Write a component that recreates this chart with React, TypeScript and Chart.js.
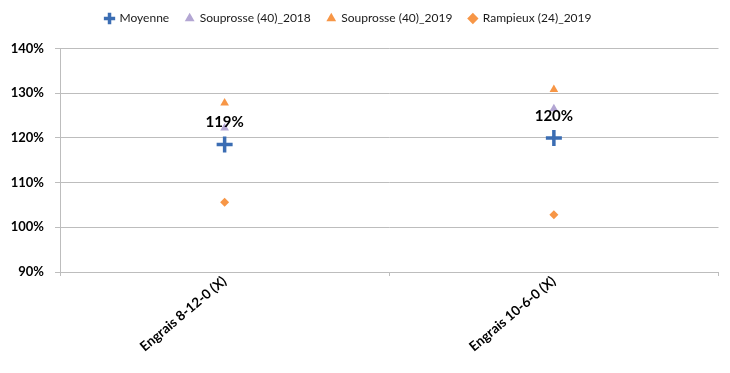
import React, { useEffect, useRef } from "react";
import { Chart, registerables } from "chart.js";

Chart.register(...registerables);

const categories = ["Engrais 8-12-0 (X)", "Engrais 10-6-0 (X)"];
const moyenne = [1.185, 1.2];
const souprosse2018 = [1.222, 1.265];
const souprosse2019 = [1.278, 1.308];
const rampieux2019 = [1.056, 1.028];
const yTicks = [0.9, 1.0, 1.1, 1.2, 1.3, 1.4];

const FONT = "Lato, 'Open Sans', sans-serif";

const labelPlugin = {
  id: "moyLabels",
  afterDatasetsDraw(chart: any) {
    const meta = chart.getDatasetMeta(0);
    const ctx = chart.ctx;
    ctx.save();
    ctx.font = `bold 15px ${FONT}`;
    ctx.fillStyle = "#000";
    ctx.textAlign = "center";
    ctx.textBaseline = "middle";
    meta.data.forEach((pt: any, i: number) => {
      const v = moyenne[i];
      ctx.fillText(Math.round(v * 100) + "%", pt.x, pt.y - 22);
    });
    ctx.restore();
  },
};

const legendTweak = {
  id: "legendTweak",
  beforeUpdate(chart: any) {
    const lg = chart.legend;
    if (!lg || lg.__patched) return;
    lg.__patched = true;
    const origFit = lg.fit.bind(lg);
    lg.fit = function () {
      origFit();
      this.height += 14;
    };
    const origDraw = lg.draw.bind(lg);
    lg.draw = function () {
      const ctx = chart.ctx;
      ctx.save();
      ctx.translate(-12, 0);
      origDraw();
      ctx.restore();
    };
  },
};

export default function App() {
  const ref = useRef<HTMLCanvasElement>(null);
  useEffect(() => {
    const chart = new Chart(ref.current!, {
      type: "line",
      data: {
        labels: categories,
        datasets: [
          {
            label: "Moyenne",
            data: moyenne,
            showLine: false,
            pointStyle: "cross",
            pointRadius: 8,
            pointBorderWidth: 3.5,
            borderColor: "#3B6DB3",
            backgroundColor: "#3B6DB3",
          },
          {
            label: "Souprosse (40)_2018",
            data: souprosse2018,
            showLine: false,
            pointStyle: "triangle",
            pointRadius: 5,
            pointBorderWidth: 0,
            borderColor: "#B3A6D3",
            backgroundColor: "#B3A6D3",
          },
          {
            label: "Souprosse (40)_2019",
            data: souprosse2019,
            showLine: false,
            pointStyle: "triangle",
            pointRadius: 5,
            pointBorderWidth: 0,
            borderColor: "#F79646",
            backgroundColor: "#F79646",
          },
          {
            label: "Rampieux (24)_2019",
            data: rampieux2019,
            showLine: false,
            pointStyle: "rectRot",
            pointRadius: 4.5,
            pointBorderWidth: 0,
            borderColor: "#F79646",
            backgroundColor: "#F79646",
          },
        ],
      },
      options: {
        animation: false,
        responsive: false,
        layout: { padding: { left: 0, right: 9, top: -4, bottom: 0 } },
        plugins: {
          tooltip: { enabled: false },
          legend: {
            position: "top",
            labels: {
              usePointStyle: true,
              boxWidth: 8,
              boxHeight: 8,
              padding: 16.5,
              color: "#1a1a1a",
              font: { family: FONT, size: 12 },
            },
          },
        },
        scales: {
          x: {
            type: "category",
            offset: true,
            grid: {
              offset: true,
              drawOnChartArea: false,
              drawTicks: true,
              tickLength: 4,
              color: "#BDBDBD",
            },
            border: { color: "#BDBDBD", width: 1 },
            ticks: {
              minRotation: 40,
              maxRotation: 40,
              color: "#000",
              font: { family: FONT, size: 13.5, weight: "bold" },
              padding: -3,
            },
            afterFit(scale: any) {
              scale.height = 101;
            },
          },
          y: {
            min: 0.9,
            max: 1.4,
            afterBuildTicks(scale: any) {
              scale.ticks = yTicks.map((v) => ({ value: v }));
            },
            grid: { color: "#BDBDBD", tickLength: 5 },
            border: { color: "#BDBDBD", width: 1 },
            ticks: {
              color: "#000",
              font: { family: FONT, size: 13, weight: "bold" },
              padding: 11,
              callback: (v: any) => Math.round(Number(v) * 100) + "%",
            },
            afterFit(scale: any) {
              scale.width = 60;
            },
          },
        },
      },
      plugins: [labelPlugin, legendTweak],
    } as any);
    return () => chart.destroy();
  }, []);
  return (
    <div style={{ position: "fixed", left: 0, top: 0, width: 730, height: 373, background: "#fff" }}>
      <canvas ref={ref} width={730} height={373} />
    </div>
  );
}
